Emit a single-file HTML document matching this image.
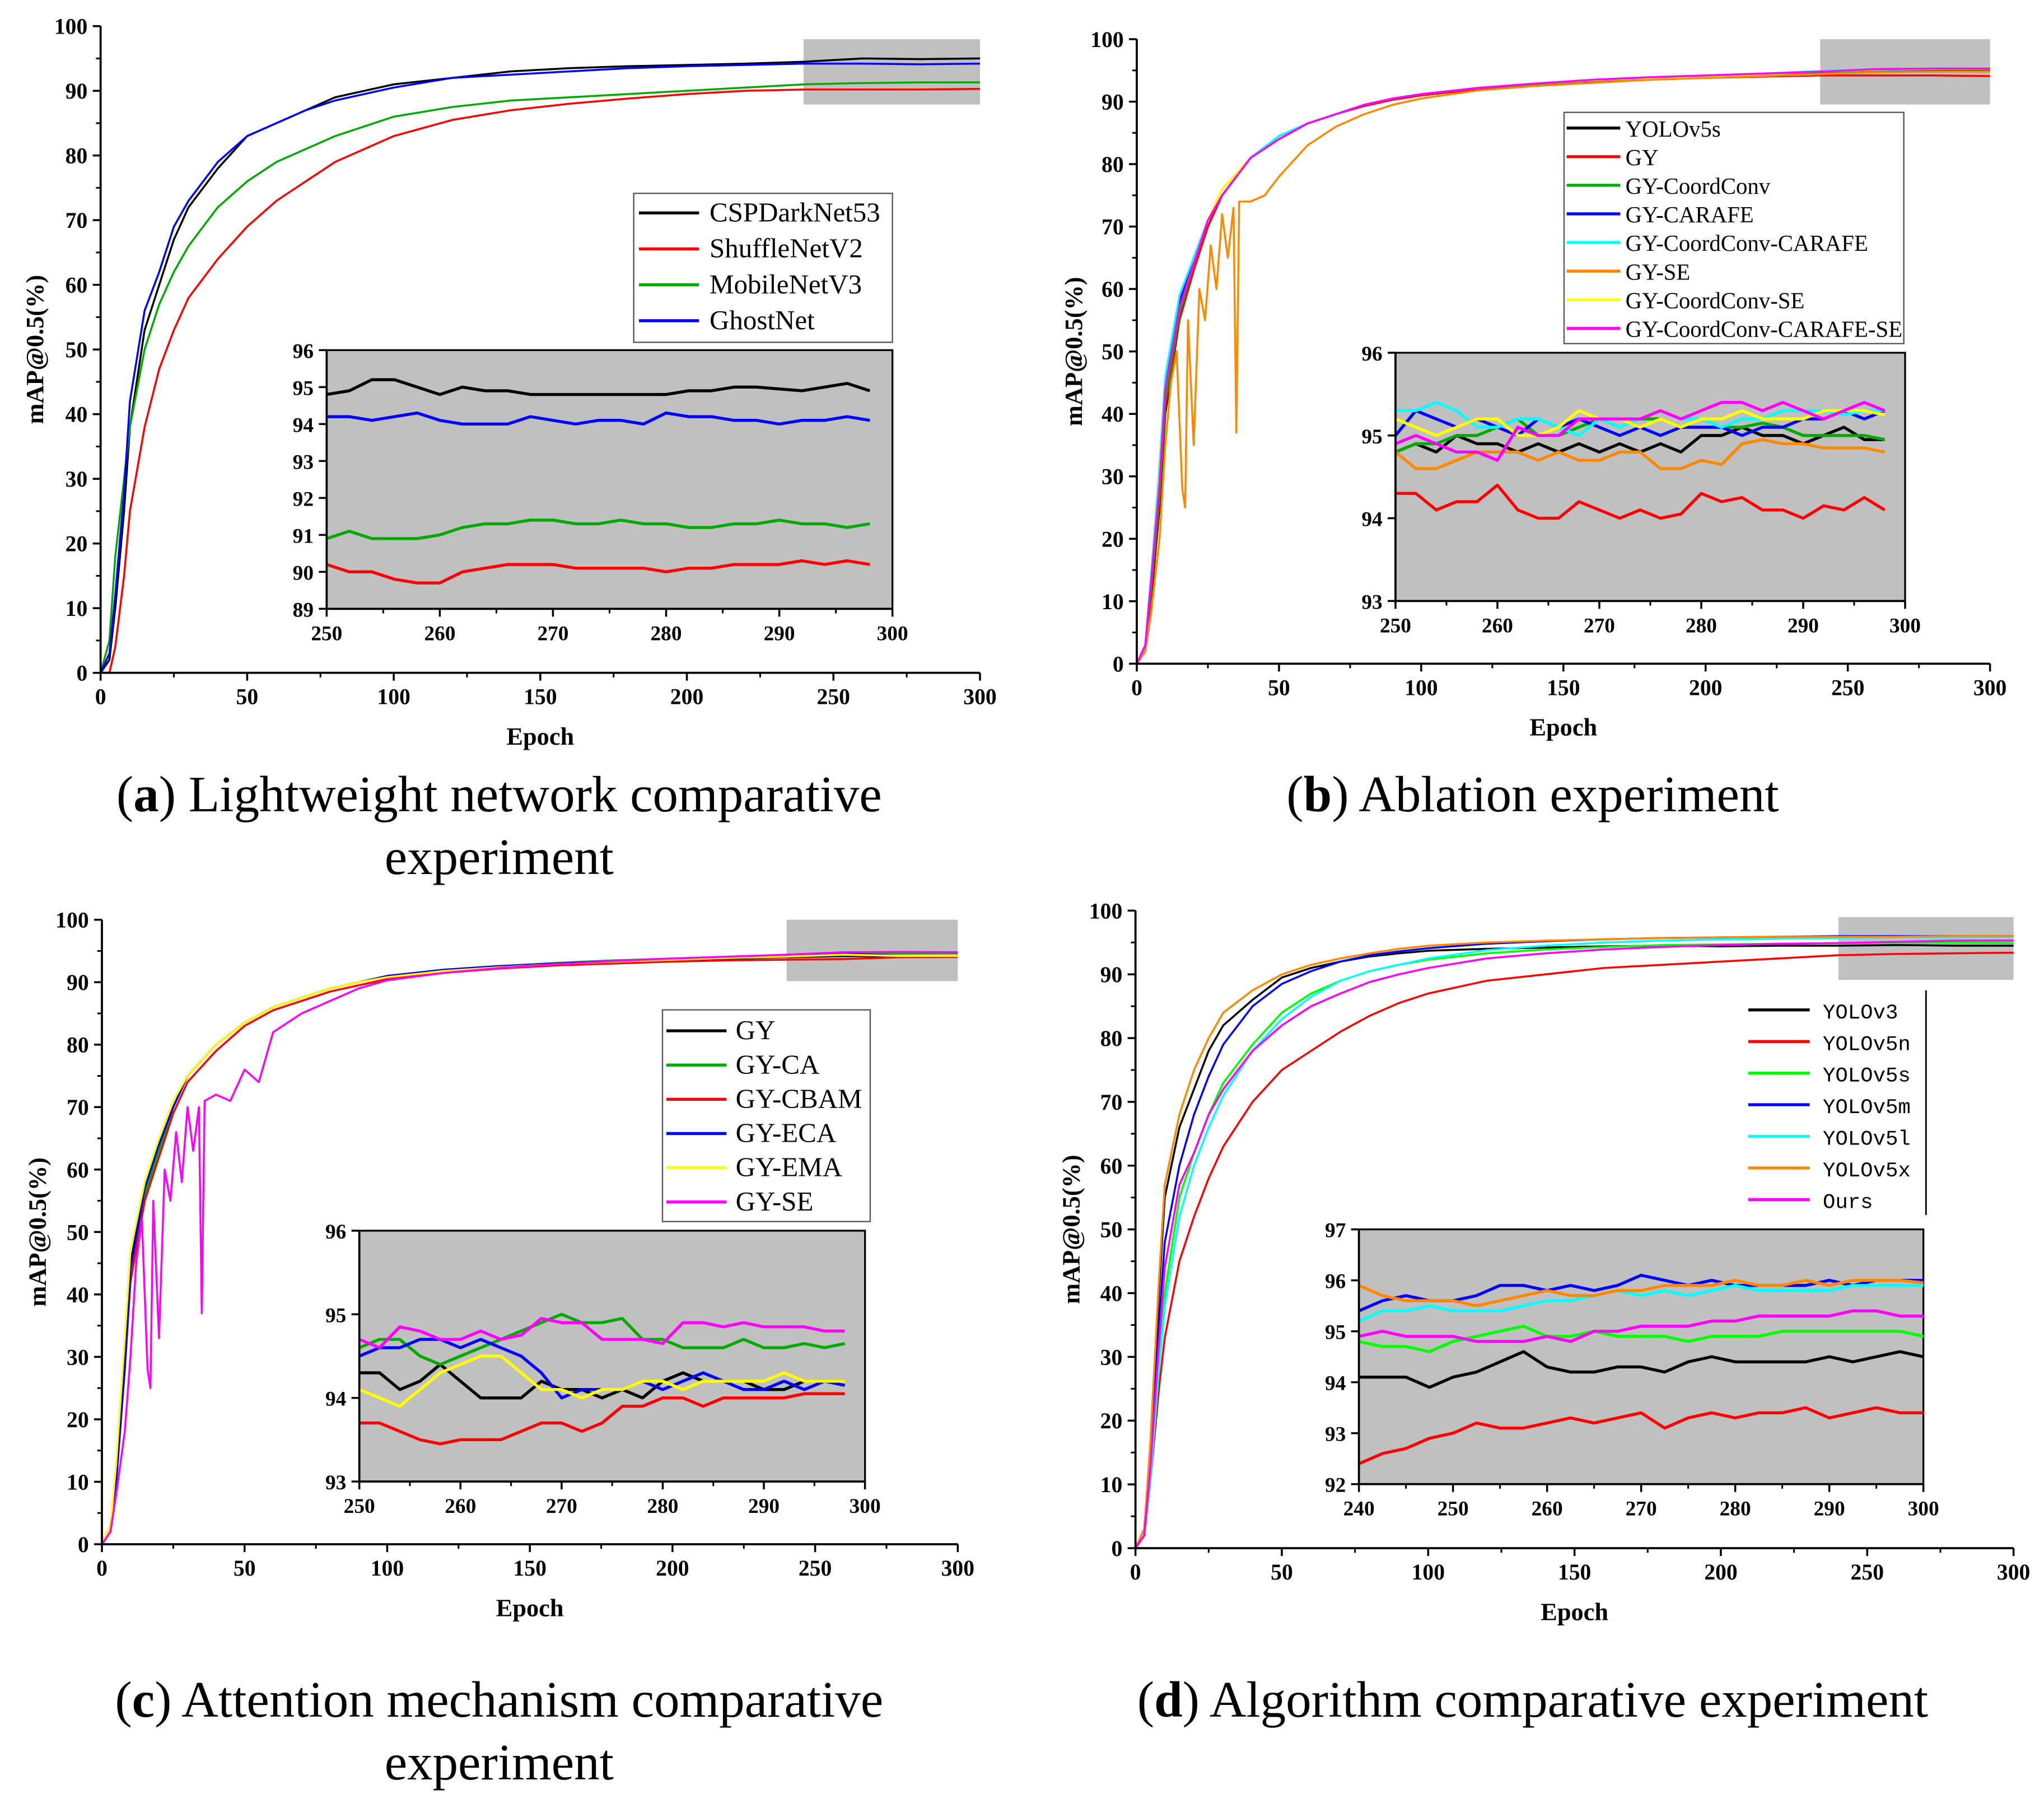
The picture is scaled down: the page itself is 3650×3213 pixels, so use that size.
<!DOCTYPE html>
<html><head><meta charset="utf-8">
<style>
html,body{margin:0;padding:0;background:#fff;}
svg{display:block;}
text{font-family:"Liberation Serif",serif;}
.tk{font-weight:bold;font-family:"Liberation Serif",serif;}
.lab{font-weight:bold;font-size:19px;}
.leg{font-size:21px;}
.legb{font-size:17.5px;}
.legm{font-family:"Liberation Mono",monospace;font-size:16px;}
.cap{font-size:39px;}
</style></head>
<body>
<svg id="fig" width="3650" height="3213" viewBox="0 0 1564.3 1377" xmlns="http://www.w3.org/2000/svg">
<rect x="0" y="0" width="1564.3" height="1377" fill="#fff"/>
<g>
<text class="cap" x="382" y="621" text-anchor="middle">(<tspan font-weight="bold">a</tspan>) Lightweight network comparative</text>
<text class="cap" x="382" y="669" text-anchor="middle">experiment</text></g>
<text class="cap" x="1173" y="621" text-anchor="middle">(<tspan font-weight="bold">b</tspan>) Ablation experiment</text>
<g>
<text class="cap" x="382" y="1314" text-anchor="middle">(<tspan font-weight="bold">c</tspan>) Attention mechanism comparative</text>
<text class="cap" x="382" y="1362" text-anchor="middle">experiment</text></g>
<text class="cap" x="1173" y="1314" text-anchor="middle">(<tspan font-weight="bold">d</tspan>) Algorithm comparative experiment</text>
</svg>
<script>
const mainEpochs = [0,3,5,8,10,15,20,25,30,40,50,60,70,80,90,100,120,140,160,180,200,220,240,260,280,300];
const insetEpochsA = [250,252,254,256,258,260,262,264,266,268,270,272,274,276,278,280,282,284,286,288,290,292,294,296,298];
const insetEpochsD = [240,242.5,245,247.5,250,252.5,255,257.5,260,262.5,265,267.5,270,272.5,275,277.5,280,282.5,285,287.5,290,292.5,295,297.5,300];
const mainTicksY = [0,10,20,30,40,50,60,70,80,90,100];
const mainTicksX = [0,50,100,150,200,250,300];

const aNames = ["CSPDarkNet53","ShuffleNetV2","MobileNetV3","GhostNet"];
const aColors = ["#000","#f00","#0a0","#00f"];
const aMainCSP = [0,2,10,25,38,53,60,67,72,78,83,85,87,89,90,91,92,93,93.5,93.8,94,94.2,94.5,95,94.9,95];
const aMainShuffle = [0,0,4,15,25,38,47,53,58,64,69,73,76,79,81,83,85.5,87,88,88.8,89.5,90,90.2,90.2,90.2,90.3];
const aMainMobile = [0,5,18,30,38,50,57,62,66,72,76,79,81,83,84.5,86,87.5,88.5,89,89.5,90,90.5,91,91.2,91.3,91.3];
const aMainGhost = [0,3,12,28,42,56,62,69,73,79,83,85,87,88.5,89.5,90.5,92,92.5,93,93.5,93.8,94,94.2,94.2,94.1,94.2];
const aInsCSP = [94.8,94.9,95.2,95.2,95.0,94.8,95.0,94.9,94.9,94.8,94.8,94.8,94.8,94.8,94.8,94.8,94.9,94.9,95.0,95.0,94.95,94.9,95.0,95.1,94.9];
const aInsShuffle = [90.2,90.0,90.0,89.8,89.7,89.7,90.0,90.1,90.2,90.2,90.2,90.1,90.1,90.1,90.1,90.0,90.1,90.1,90.2,90.2,90.2,90.3,90.2,90.3,90.2];
const aInsMobile = [90.9,91.1,90.9,90.9,90.9,91.0,91.2,91.3,91.3,91.4,91.4,91.3,91.3,91.4,91.3,91.3,91.2,91.2,91.3,91.3,91.4,91.3,91.3,91.2,91.3];
const aInsGhost = [94.2,94.2,94.1,94.2,94.3,94.1,94.0,94.0,94.0,94.2,94.1,94.0,94.1,94.1,94.0,94.3,94.2,94.2,94.1,94.1,94.0,94.1,94.1,94.2,94.1];
const aInsTicksY = [89,90,91,92,93,94,95,96];
const insTicksX = [250,260,270,280,290,300];

const bNames = ["YOLOv5s","GY","GY-CoordConv","GY-CARAFE","GY-CoordConv-CARAFE","GY-SE","GY-CoordConv-SE","GY-CoordConv-CARAFE-SE"];
const bColors = ["#000","#f00","#0a0","#00f","#0ff","#f80","#ff0","#f0f"];
const bMainBlack = [0,2,10,25,40,55,63,70,75,81,84,86.5,88,89.5,90.5,91,92,92.8,93.3,93.8,94,94.3,94.6,94.9,95,95];
const bMainRed = [0,2,11,26,41,55,63,70,75,81,84,86.5,88,89.3,90.3,91,92,92.6,93.1,93.5,93.8,94,94.2,94.2,94.2,94.1];
const bMainGreen = [0,3,12,27,42,56,64,71,76,81,84,86.5,88,89.5,90.5,91.2,92.2,92.8,93.4,93.8,94.1,94.4,94.7,95,95,95];
const bMainBlue = [0,3,14,30,45,58,65,71,75,81,84.5,86.5,88,89.5,90.5,91.2,92.2,92.9,93.4,93.8,94.1,94.4,94.8,95.1,95.1,95.2];
const bMainCyan = [0,3,14,32,46,59,65,71,75,81,84.5,86.5,88,89.5,90.5,91.2,92.2,92.9,93.5,93.9,94.2,94.5,94.9,95.2,95.3,95.3];
const bEpochsOrange = [0,3,5,8,10,12,14,16,17,18,20,22,24,26,28,30,32,34,35,36,40,45,50,60,70,80,90,100,120,140,160,180,200,220,240,260,280,300];
const bMainOrange = [0,2,8,20,35,45,50,28,25,55,35,60,55,67,60,72,65,73,37,74,74,75,78,83,86,88,89.5,90.5,91.8,92.5,93,93.5,93.8,94.1,94.4,94.7,94.8,94.8];
const bMainYellow = [0,3,13,30,44,57,64,71,76,81,84,86.5,88,89.5,90.5,91.2,92.2,92.9,93.4,93.8,94.1,94.4,94.8,95.1,95.2,95.25];
const bMainMagenta = [0,3,13,29,44,57,64,71,75,81,84,86.5,88,89.5,90.5,91.2,92.2,92.9,93.5,93.9,94.2,94.5,94.8,95.2,95.3,95.3];
const bInsBlack = [94.8,94.9,94.8,95.0,94.9,94.9,94.8,94.9,94.8,94.9,94.8,94.9,94.8,94.9,94.8,95.0,95.0,95.1,95.0,95.0,94.9,95.0,95.1,94.95,94.95];
const bInsRed = [94.3,94.3,94.1,94.2,94.2,94.4,94.1,94.0,94.0,94.2,94.1,94.0,94.1,94.0,94.05,94.3,94.2,94.25,94.1,94.1,94.0,94.15,94.1,94.25,94.1];
const bInsGreen = [94.8,94.9,94.9,95.0,95.0,95.1,95.2,95.0,95.0,95.1,95.2,95.1,95.2,95.2,95.1,95.1,95.1,95.1,95.15,95.1,95.0,95.0,95.0,95.0,94.95];
const bInsBlue = [95.0,95.3,95.2,95.1,95.2,95.1,95.0,95.2,95.1,95.2,95.1,95.0,95.1,95.0,95.1,95.1,95.1,95.0,95.1,95.1,95.2,95.2,95.3,95.2,95.3];
const bInsCyan = [95.3,95.3,95.4,95.3,95.1,95.1,95.2,95.2,95.1,95.0,95.2,95.1,95.2,95.3,95.2,95.2,95.1,95.2,95.2,95.3,95.3,95.3,95.25,95.3,95.3];
const bInsOrange = [94.8,94.6,94.6,94.7,94.8,94.8,94.8,94.7,94.8,94.7,94.7,94.8,94.8,94.6,94.6,94.7,94.65,94.9,94.95,94.9,94.9,94.85,94.85,94.85,94.8];
const bInsYellow = [95.2,95.1,95.0,95.1,95.2,95.2,95.0,95.0,95.1,95.3,95.2,95.2,95.1,95.2,95.1,95.2,95.2,95.3,95.2,95.2,95.2,95.3,95.3,95.3,95.25];
const bInsMagenta = [94.9,95.0,94.9,94.8,94.8,94.7,95.1,95.0,95.0,95.2,95.2,95.2,95.2,95.3,95.2,95.3,95.4,95.4,95.3,95.4,95.3,95.2,95.3,95.4,95.3];
const bInsTicksY = [93,94,95,96];

const cNames = ["GY","GY-CA","GY-CBAM","GY-ECA","GY-EMA","GY-SE"];
const cColors = ["#000","#0a0","#f00","#00f","#ff0","#f0f"];
const cMainBlack = [0,3,12,30,45,57,64,70,75,80,83.5,86,87.5,89,90,91,92,92.6,93,93.3,93.6,93.8,94,94.2,94.1,94.2];
const cMainGreen = [0,3,11,28,42,56,63,70,75,80,83.5,86,87.5,89,90,91,92,92.6,93.1,93.5,93.8,94.1,94.4,94.7,94.6,94.65];
const cMainRed = [0,2,10,28,42,55,62,69,74,79,83,85.5,87,88.5,89.5,90.5,91.5,92.2,92.7,93,93.3,93.5,93.6,93.7,94,94.05];
const cMainBlue = [0,3,10,28,44,57,64,70,75,80,83.5,86,87.5,89,90,91,92,92.6,93,93.4,93.7,94,94.3,94.6,94.2,94.15];
const cMainYellow = [0,3,13,33,47,58,65,71,75,80,83.5,86,87.5,89,90,90.8,91.8,92.4,92.9,93.3,93.6,93.9,94.1,94.4,94.2,94.2];
const cEpochsMagenta = [0,3,5,8,10,12,14,16,17,18,20,22,24,26,28,30,32,34,35,36,40,45,50,55,60,70,80,90,100,120,140,160,180,200,220,240,260,280,300];
const cMainMagenta = [0,2,8,18,30,45,52,28,25,55,33,60,55,66,58,70,63,70,37,71,72,71,76,74,82,85,87,89,90.3,91.5,92.3,92.9,93.4,93.8,94.1,94.4,94.8,94.85,94.8];
const cInsBlack = [94.3,94.3,94.1,94.2,94.4,94.2,94.0,94.0,94.0,94.2,94.1,94.1,94.0,94.1,94.0,94.2,94.3,94.2,94.2,94.2,94.1,94.1,94.2,94.2,94.2];
const cInsGreen = [94.6,94.7,94.7,94.5,94.4,94.5,94.6,94.7,94.8,94.9,95.0,94.9,94.9,94.95,94.7,94.7,94.6,94.6,94.6,94.7,94.6,94.6,94.65,94.6,94.65];
const cInsRed = [93.7,93.7,93.6,93.5,93.45,93.5,93.5,93.5,93.6,93.7,93.7,93.6,93.7,93.9,93.9,94.0,94.0,93.9,94.0,94.0,94.0,94.0,94.05,94.05,94.05];
const cInsBlue = [94.5,94.6,94.6,94.7,94.7,94.6,94.7,94.6,94.5,94.3,94.0,94.1,94.1,94.1,94.2,94.1,94.2,94.3,94.2,94.1,94.1,94.2,94.1,94.2,94.15];
const cInsYellow = [94.1,94.0,93.9,94.1,94.3,94.4,94.5,94.5,94.3,94.1,94.1,94.0,94.1,94.1,94.2,94.2,94.1,94.2,94.2,94.2,94.2,94.3,94.2,94.2,94.2];
const cInsMagenta = [94.7,94.6,94.85,94.8,94.7,94.7,94.8,94.7,94.75,94.95,94.9,94.9,94.7,94.7,94.7,94.65,94.9,94.9,94.85,94.9,94.85,94.85,94.85,94.8,94.8];

const dNames = ["YOLOv3","YOLOv5n","YOLOv5s","YOLOv5m","YOLOv5l","YOLOv5x","Ours"];
const dColors = ["#000","#f00","#0f0","#00f","#0ff","#f80","#f0f"];
const dMainV3 = [0,3,15,40,55,66,72,78,82,86,89.5,91,92,92.8,93.3,93.7,94,94.2,94.4,94.5,94.4,94.5,94.5,94.6,94.5,94.5];
const dMainV5n = [0,2,10,25,33,45,52,58,63,70,75,78,81,83.5,85.5,87,89,90,91,91.5,92,92.5,93,93.2,93.3,93.4];
const dMainV5s = [0,2,12,30,40,55,62,68,73,79,84,87,89,90.5,91.5,92.3,93.3,93.9,94.3,94.6,94.7,94.8,94.9,95,95,94.9];
const dMainV5m = [0,3,14,35,48,60,68,74,79,85,88.5,90.5,92,93,93.6,94.1,94.8,95.2,95.5,95.7,95.8,95.9,96,96,96,96];
const dMainV5l = [0,2,10,28,38,52,60,66,71,78,83,86.5,89,90.5,91.5,92.5,93.8,94.5,95,95.3,95.5,95.6,95.7,95.8,95.8,95.9];
const dMainV5x = [0,3,16,42,57,68,75,80,84,87.5,90,91.5,92.5,93.3,94,94.5,95,95.3,95.5,95.7,95.8,95.9,95.9,95.9,96,96];
const dMainOurs = [0,2,12,32,44,57,62,68,72,78,82,85,87,88.8,90,91,92.5,93.3,93.9,94.3,94.6,94.8,94.9,95.1,95.3,95.3];
const dInsV3 = [94.1,94.1,94.1,93.9,94.1,94.2,94.4,94.6,94.3,94.2,94.2,94.3,94.3,94.2,94.4,94.5,94.4,94.4,94.4,94.4,94.5,94.4,94.5,94.6,94.5];
const dInsV5n = [92.4,92.6,92.7,92.9,93.0,93.2,93.1,93.1,93.2,93.3,93.2,93.3,93.4,93.1,93.3,93.4,93.3,93.4,93.4,93.5,93.3,93.4,93.5,93.4,93.4];
const dInsV5s = [94.8,94.7,94.7,94.6,94.8,94.9,95.0,95.1,94.9,94.9,95.0,94.9,94.9,94.9,94.8,94.9,94.9,94.9,95.0,95.0,95.0,95.0,95.0,95.0,94.9];
const dInsV5m = [95.4,95.6,95.7,95.6,95.6,95.7,95.9,95.9,95.8,95.9,95.8,95.9,96.1,96.0,95.9,96.0,95.9,95.9,95.9,95.9,96.0,95.9,96.0,96.0,96.0];
const dInsV5l = [95.2,95.4,95.4,95.5,95.4,95.4,95.4,95.5,95.6,95.6,95.7,95.8,95.7,95.8,95.7,95.8,95.9,95.8,95.8,95.8,95.8,95.9,95.9,95.9,95.9];
const dInsV5x = [95.9,95.7,95.6,95.6,95.6,95.5,95.6,95.7,95.8,95.7,95.7,95.8,95.8,95.9,95.9,95.9,96.0,95.9,95.9,96.0,95.9,96.0,96.0,96.0,95.95];
const dInsOurs = [94.9,95.0,94.9,94.9,94.9,94.8,94.8,94.8,94.9,94.8,95.0,95.0,95.1,95.1,95.1,95.2,95.2,95.3,95.3,95.3,95.3,95.4,95.4,95.3,95.3];
const dInsTicksY = [92,93,94,95,96,97];
const dInsTicksX = [240,250,260,270,280,290,300];

const NS = "http://www.w3.org/2000/svg";
const svg = document.getElementById("fig");
function el(tag, attrs, parent, txt) {
  const e = document.createElementNS(NS, tag);
  for (const k in attrs) e.setAttribute(k, attrs[k]);
  if (txt !== undefined) e.textContent = txt;
  parent.appendChild(e);
  return e;
}
function scale(d0, d1, r0, r1) { return v => r0 + (v - d0) * (r1 - r0) / (d1 - d0); }

function axes(g, sx, sy, x0, x1, y0, y1, ticksX, ticksY, fs, minorY) {
  const fr = el("path", {d:`M${sx(x0)},${sy(y1)} L${sx(x0)},${sy(y0)} L${sx(x1)},${sy(y0)}`, fill:"none", stroke:"#000", "stroke-width":1.6}, g);
  
  
  ticksX.forEach(t => {
    el("line", {x1:sx(t), x2:sx(t), y1:sy(y0), y2:sy(y0)+6, stroke:"#000","stroke-width":1.5}, g);
    const tl = el("text", {x:sx(t), y:sy(y0)+24, "text-anchor":"middle", class:"tk", "font-size":fs}, g, t);
    
    
  });
  for (let i = 0; i < ticksX.length - 1; i++) {
    const m = (ticksX[i] + ticksX[i+1]) / 2;
    el("line", {x1:sx(m), x2:sx(m), y1:sy(y0), y2:sy(y0)+3.5, stroke:"#000","stroke-width":1.3}, g);
  }
  ticksY.forEach(t => {
    el("line", {x1:sx(x0)-6, x2:sx(x0), y1:sy(t), y2:sy(t), stroke:"#000","stroke-width":1.5}, g);
    const tl = el("text", {x:sx(x0)-10, y:sy(t)+6, "text-anchor":"end", class:"tk", "font-size":fs}, g, t);
    
    
  });
  if (minorY) for (let i = 0; i < ticksY.length - 1; i++) {
    const m = (ticksY[i] + ticksY[i+1]) / 2;
    el("line", {x1:sx(x0)-3.5, x2:sx(x0), y1:sy(m), y2:sy(m), stroke:"#000","stroke-width":1.3}, g);
  }
}
function series(g, sx, sy, xs, ys, color, name, w) {
  const pts = xs.map((x, i) => `${sx(x).toFixed(2)},${sy(ys[i]).toFixed(2)}`).join(" ");
  const p = el("polyline", {points:pts, fill:"none", stroke:color, "stroke-width":w, "stroke-linejoin":"round"}, g);
  
  
}

function panel(cfg) {
  const g = el("g", {}, svg);
  
  
  const sx = scale(0, 300, cfg.ax[0], cfg.ax[1]);
  const sy = scale(0, 100, cfg.ay[1], cfg.ay[0]);
  const hb = el("rect", {x:cfg.hl[0], y:cfg.hl[1], width:cfg.hl[2], height:cfg.hl[3], fill:"#c0c0c0"}, g);
  
  
  cfg.main.forEach((m, i) => series(g, sx, sy, m.x || mainEpochs, m.y, cfg.colors[i], "line-" + cfg.names[i].toLowerCase(), 1.5));
  axes(g, sx, sy, 0, 300, 0, 100, mainTicksX, mainTicksY, 17, true);
  const xl = el("text", {x:(cfg.ax[0]+cfg.ax[1])/2, y:cfg.ay[1]+55, "text-anchor":"middle", class:"lab"}, g, "Epoch");
  
  
  const yc = (cfg.ay[0]+cfg.ay[1])/2;
  const yl = el("text", {x:cfg.ylx, y:yc, "text-anchor":"middle", class:"lab", transform:`rotate(-90 ${cfg.ylx} ${yc})`}, g, "mAP@0.5(%)");
  
  
  const ig = el("g", {}, g);
  
  
  const ix = scale(cfg.ixd[0], cfg.ixd[1], cfg.ix[0], cfg.ix[1]);
  const iy = scale(cfg.iyd[0], cfg.iyd[1], cfg.iy[1], cfg.iy[0]);
  el("rect", {x:cfg.ix[0], y:cfg.iy[0], width:cfg.ix[1]-cfg.ix[0], height:cfg.iy[1]-cfg.iy[0], fill:"#c0c0c0", stroke:"#000", "stroke-width":1.4}, ig);
  cfg.ins.forEach((s, i) => series(ig, ix, iy, cfg.insX, s, cfg.colors[i], "inset-line-" + cfg.names[i].toLowerCase(), 2.3));
  axes(ig, ix, iy, cfg.ixd[0], cfg.ixd[1], cfg.iyd[0], cfg.iyd[1], cfg.iTicksX, cfg.iTicksY, 16, false);
  const lg = el("g", {}, g);
  
  
  if (cfg.lbox) el("rect", {x:cfg.lbox[0], y:cfg.lbox[1], width:cfg.lbox[2], height:cfg.lbox[3], fill:"#fff", stroke:"#555", "stroke-width":1}, lg);
  if (cfg.lvline) el("line", {x1:cfg.lvline[0], x2:cfg.lvline[0], y1:cfg.lvline[1], y2:cfg.lvline[2], stroke:"#000","stroke-width":1.2}, lg);
  cfg.names.forEach((n, i) => {
    const y = cfg.ly[0] + i * cfg.ly[1];
    const e = el("g", {}, lg);
    
    
    el("line", {x1:cfg.lx[0], x2:cfg.lx[1], y1:y, y2:y, stroke:cfg.colors[i], "stroke-width":2.3}, e);
    el("text", {x:cfg.lx[2], y:y + 6.5, class:cfg.lcls}, e, n);
  });
}

panel({id:"panel-a", ax:[77,750], ay:[20,515], hl:[615,30,135,50], ylx:33,
  names:aNames, colors:aColors,
  main:[{y:aMainCSP},{y:aMainShuffle},{y:aMainMobile},{y:aMainGhost}],
  ix:[250,683], iy:[268,466], ixd:[250,300], iyd:[89,96], insX:insetEpochsA,
  ins:[aInsCSP,aInsShuffle,aInsMobile,aInsGhost], iTicksX:insTicksX, iTicksY:aInsTicksY,
  lbox:[485,148,198,114], lx:[489,535,543], ly:[163,27.5], lcls:"leg"});
panel({id:"panel-b", ax:[870,1523], ay:[30,508], hl:[1393,30,130,50], ylx:828,
  names:bNames, colors:bColors,
  main:[{y:bMainBlack},{y:bMainRed},{y:bMainGreen},{y:bMainBlue},{y:bMainCyan},{x:bEpochsOrange,y:bMainOrange},{y:bMainYellow},{y:bMainMagenta}],
  ix:[1068,1458], iy:[270,460], ixd:[250,300], iyd:[93,96], insX:insetEpochsA,
  ins:[bInsBlack,bInsRed,bInsGreen,bInsBlue,bInsCyan,bInsOrange,bInsYellow,bInsMagenta], iTicksX:insTicksX, iTicksY:bInsTicksY,
  lbox:[1197,86,260,177], lx:[1199,1240,1244], ly:[98,21.9], lcls:"legb"});
panel({id:"panel-c", ax:[78,733], ay:[704,1182], hl:[602,704,131,47], ylx:35,
  names:cNames, colors:cColors,
  main:[{y:cMainBlack},{y:cMainGreen},{y:cMainRed},{y:cMainBlue},{y:cMainYellow},{x:cEpochsMagenta,y:cMainMagenta}],
  ix:[275,662], iy:[942,1134], ixd:[250,300], iyd:[93,96], insX:insetEpochsA,
  ins:[cInsBlack,cInsGreen,cInsRed,cInsBlue,cInsYellow,cInsMagenta], iTicksX:insTicksX, iTicksY:bInsTicksY,
  lbox:[507,773,159,162], lx:[510,556,563], ly:[789,26.2], lcls:"leg"});
panel({id:"panel-d", ax:[869,1541], ay:[697,1185], hl:[1407,702,134,48], ylx:826,
  names:dNames, colors:dColors,
  main:[{y:dMainV3},{y:dMainV5n},{y:dMainV5s},{y:dMainV5m},{y:dMainV5l},{y:dMainV5x},{y:dMainOurs}],
  ix:[1040,1472], iy:[941,1136], ixd:[240,300], iyd:[92,97], insX:insetEpochsD,
  ins:[dInsV3,dInsV5n,dInsV5s,dInsV5m,dInsV5l,dInsV5x,dInsOurs], iTicksX:dInsTicksX, iTicksY:dInsTicksY,
  lvline:[1474,758,930], lx:[1338,1385,1395], ly:[773,24.2], lcls:"legm"});
</script>
</body></html>
